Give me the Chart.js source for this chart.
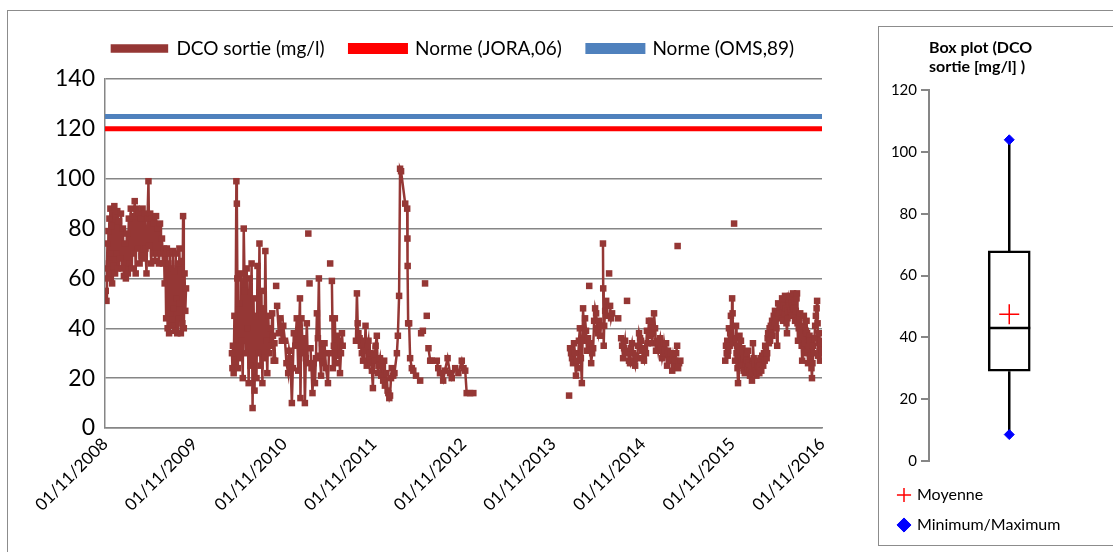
<!DOCTYPE html>
<html><head><meta charset="utf-8">
<script src="https://cdn.jsdelivr.net/npm/chart.js@4.4.1/dist/chart.umd.min.js"></script>
<style>
html,body{margin:0;padding:0;background:#fff;width:1113px;height:552px;overflow:hidden;position:relative;}
#frame{position:absolute;left:7px;top:10px;width:1200px;height:700px;border:1px solid #8c8c8c;}
#main{position:absolute;left:0;top:0;width:870px;height:552px;}
#boxframe{position:absolute;left:878px;top:26px;width:300px;height:518px;border:1px solid #8c8c8c;background:#fff;}
#box{position:absolute;left:879px;top:27px;width:234px;height:517px;}
</style></head><body>
<div id="frame"></div>
<div id="main"><canvas id="c1"></canvas></div>
<div id="boxframe"></div>
<div id="box"><canvas id="c2"></canvas></div>
<script>
// ---------- DATA ----------
const xTickLabels = ['01/11/2008','01/11/2009','01/11/2010','01/11/2011','01/11/2012','01/11/2013','01/11/2014','01/11/2015','01/11/2016'];
const seriesNames = ['DCO sortie (mg/l)','Norme (JORA,06)','Norme (OMS,89)'];
const normeJORA = 120;
const normeOMS = 125;

// DCO sortie: dates (YYYY-MM-DD) and values (mg/l); null = no measurement (line break)
const dates = [
'2008-11-04','2008-11-07','2008-11-09','2008-11-11','2008-11-13','2008-11-15','2008-11-17','2008-11-19','2008-11-21','2008-11-23','2008-11-25','2008-11-27','2008-11-30',
'2008-12-03','2008-12-06','2008-12-09','2008-12-12','2008-12-15','2008-12-18','2008-12-21','2008-12-24','2008-12-28',
'2009-01-01','2009-01-05','2009-01-09','2009-01-13','2009-01-17','2009-01-21','2009-01-25','2009-01-29',
'2009-02-02','2009-02-06','2009-02-10','2009-02-14','2009-02-18','2009-02-22','2009-02-26',
'2009-03-02','2009-03-06','2009-03-10','2009-03-14','2009-03-18','2009-03-22','2009-03-26','2009-03-30',
'2009-04-03','2009-04-07','2009-04-11','2009-04-15','2009-04-19','2009-04-23','2009-04-27','2009-04-30',
'2009-05-04','2009-05-08','2009-05-12','2009-05-16','2009-05-20','2009-05-24','2009-05-28',
'2009-06-01','2009-06-05','2009-06-09','2009-06-13','2009-06-17','2009-06-21','2009-06-25','2009-06-29',
'2009-07-02','2009-07-05','2009-07-08','2009-07-11','2009-07-14','2009-07-17','2009-07-20','2009-07-23','2009-07-26','2009-07-29',
'2009-08-01','2009-08-04','2009-08-07','2009-08-10','2009-08-13','2009-08-16','2009-08-19','2009-08-22','2009-08-25','2009-08-28','2009-08-31',
'2009-09-03','2009-09-06','2009-09-09','2009-09-12','2009-09-15','2009-09-18','2009-09-21','2009-09-24','2009-09-27',
'2009-10-20',
'2010-04-02','2010-04-04','2010-04-06','2010-04-09','2010-04-12','2010-04-16','2010-04-20','2010-04-22','2010-04-24','2010-04-26','2010-04-30',
'2010-05-04','2010-05-08','2010-05-12','2010-05-16','2010-05-20','2010-05-24','2010-05-28',
'2010-06-01','2010-06-05','2010-06-09','2010-06-13','2010-06-17','2010-06-21','2010-06-25','2010-06-29',
'2010-07-03','2010-07-07','2010-07-11','2010-07-15','2010-07-19','2010-07-23','2010-07-27','2010-07-31',
'2010-08-04','2010-08-08','2010-08-12','2010-08-16','2010-08-20','2010-08-24','2010-08-28',
'2010-09-01','2010-09-05','2010-09-09','2010-09-13','2010-09-16','2010-09-19','2010-09-22','2010-09-25',
'2010-09-27','2010-09-29','2010-10-01',
'2010-10-03','2010-10-10','2010-10-16','2010-10-22','2010-10-28','2010-11-04','2010-11-10','2010-11-17','2010-11-21','2010-11-26',
'2010-12-02','2010-12-06','2010-12-10','2010-12-16','2010-12-22','2010-12-28','2011-01-04','2011-01-06','2011-01-10','2011-01-16',
'2011-01-20','2011-01-24','2011-01-28','2011-02-01','2011-02-05',
'2011-02-06','2011-02-07','2011-02-09','2011-02-12','2011-02-14',
'2011-02-16','2011-02-20','2011-02-24','2011-02-28','2011-03-06','2011-03-10','2011-03-14','2011-03-18','2011-03-22','2011-03-26',
'2011-03-31','2011-04-04','2011-04-08','2011-04-14','2011-04-20','2011-04-28','2011-05-02',
'2011-05-04','2011-05-07','2011-05-10',
'2011-05-14','2011-05-16','2011-05-18','2011-05-22','2011-05-26','2011-05-30','2011-06-03','2011-06-07','2011-06-11','2011-06-16',
'2011-06-20','2011-06-24','2011-06-27',
'2011-07-15',
'2011-08-20','2011-08-24','2011-08-27','2011-08-30','2011-09-04','2011-09-09','2011-09-13','2011-09-18','2011-09-21','2011-09-25',
'2011-09-28','2011-10-03','2011-10-07','2011-10-10','2011-10-14','2011-10-17','2011-10-21','2011-10-24','2011-10-28','2011-10-31',
'2011-11-04','2011-11-08','2011-11-13','2011-11-17','2011-11-20','2011-11-26','2011-12-01','2011-12-05','2011-12-09','2011-12-13',
'2011-12-16','2011-12-22','2011-12-27','2011-12-30','2012-01-03','2012-01-06','2012-01-10','2012-01-13','2012-01-19','2012-01-24',
'2012-02-03','2012-02-07','2012-02-12','2012-02-16','2012-02-20','2012-03-08','2012-03-16','2012-03-17','2012-03-18','2012-03-20',
'2012-03-24','2012-03-28','2012-04-04','2012-04-10','2012-04-21','2012-05-08',
'2012-05-09','2012-05-12','2012-05-19','2012-05-22','2012-05-28','2012-05-31','2012-06-04','2012-06-07',
'2012-06-11','2012-06-18','2012-06-24','2012-07-15','2012-07-21','2012-07-28','2012-08-10','2012-08-17','2012-08-28','2012-09-07',
'2012-09-14','2012-09-28','2012-10-11','2012-10-25','2012-11-01','2012-11-08','2012-11-14',
'2012-11-20','2012-11-28','2012-12-11',
'2013-06-01',
'2014-01-05','2014-01-07',
'2014-01-09','2014-01-13','2014-01-17','2014-01-21','2014-01-25','2014-01-29','2014-02-02','2014-02-06','2014-02-10','2014-02-14',
'2014-02-18','2014-02-22','2014-02-26','2014-03-03','2014-03-07','2014-03-11','2014-03-15','2014-03-19','2014-03-23',
'2014-03-26','2014-03-28','2014-03-30',
'2014-04-01','2014-04-05','2014-04-09','2014-04-13','2014-04-17','2014-04-21','2014-04-25','2014-04-29','2014-05-03','2014-05-07','2014-05-11','2014-05-15',
'2014-05-20','2014-05-23','2014-05-24','2014-05-26','2014-05-28','2014-06-01','2014-06-05','2014-06-09','2014-06-12',
'2014-06-17','2014-06-19',
'2014-06-21','2014-06-25','2014-06-29',
'2014-07-15','2014-07-24','2014-07-28',
'2014-08-05','2014-08-09','2014-08-13','2014-08-17','2014-08-21','2014-08-25',
'2014-08-27','2014-08-29','2014-08-31',
'2014-09-02','2014-09-06','2014-09-10','2014-09-14','2014-09-18','2014-09-22','2014-09-26','2014-10-01','2014-10-05','2014-10-09',
'2014-10-13','2014-10-17','2014-10-21','2014-10-25','2014-10-29','2014-11-02','2014-11-06','2014-11-10','2014-11-14','2014-11-18',
'2014-11-22','2014-11-26','2014-11-30','2014-12-05','2014-12-09','2014-12-13','2014-12-17','2014-12-21','2014-12-25','2014-12-29',
'2015-01-03','2015-01-07','2015-01-11','2015-01-15','2015-01-19','2015-01-23','2015-01-27','2015-01-31','2015-02-04','2015-02-08',
'2015-02-12','2015-02-16','2015-02-20','2015-02-24','2015-03-01','2015-03-05','2015-03-09','2015-03-13','2015-03-17','2015-03-21',
'2015-03-22','2015-03-23','2015-03-24',
'2015-03-25','2015-03-29','2015-04-03',
'2015-06-01',
'2015-10-03','2015-10-06','2015-10-09','2015-10-11','2015-10-13','2015-10-15','2015-10-18','2015-10-21','2015-10-23','2015-10-26',
'2015-10-29','2015-10-31','2015-11-02','2015-11-04',
'2015-11-06','2015-11-08','2015-11-10',
'2015-11-12','2015-11-14','2015-11-16','2015-11-18','2015-11-20','2015-11-22','2015-11-24','2015-11-26','2015-11-28','2015-11-30',
'2015-12-02','2015-12-04','2015-12-06','2015-12-08','2015-12-10','2015-12-12','2015-12-14','2015-12-17','2015-12-19','2015-12-22',
'2015-12-25','2015-12-28','2015-12-31','2016-01-02','2016-01-04','2016-01-07','2016-01-10','2016-01-12','2016-01-15','2016-01-18',
'2016-01-20','2016-01-22','2016-01-24','2016-01-27','2016-01-30','2016-02-01','2016-02-04','2016-02-07','2016-02-09','2016-02-11',
'2016-02-13','2016-02-16','2016-02-19','2016-02-21','2016-02-24','2016-02-27','2016-03-02','2016-03-04','2016-03-06','2016-03-09',
'2016-03-12','2016-03-14','2016-03-17','2016-03-20','2016-03-22','2016-03-24','2016-03-26','2016-03-29','2016-04-01','2016-04-03',
'2016-04-06','2016-04-09','2016-04-11','2016-04-13','2016-04-15','2016-04-18','2016-04-21','2016-04-23','2016-04-26','2016-04-29',
'2016-05-02','2016-05-04','2016-05-06','2016-05-09','2016-05-12','2016-05-14','2016-05-17','2016-05-20','2016-05-22','2016-05-24',
'2016-05-26','2016-05-29','2016-06-01','2016-06-03','2016-06-06','2016-06-09','2016-06-11','2016-06-13','2016-06-15','2016-06-18',
'2016-06-21','2016-06-23','2016-06-26','2016-06-29','2016-07-02','2016-07-04','2016-07-06','2016-07-09','2016-07-12','2016-07-14',
'2016-07-17','2016-07-20','2016-07-22','2016-07-24','2016-07-26','2016-07-29','2016-08-01','2016-08-04','2016-08-07','2016-08-10',
'2016-08-12','2016-08-14','2016-08-16','2016-08-19','2016-08-22','2016-08-24','2016-08-27','2016-08-30','2016-09-01','2016-09-03',
'2016-09-05','2016-09-08','2016-09-11','2016-09-13','2016-09-16','2016-09-19','2016-09-21','2016-09-23','2016-09-25','2016-09-28',
'2016-10-01','2016-10-04','2016-10-07','2016-10-10','2016-10-12','2016-10-14','2016-10-16','2016-10-18','2016-10-20','2016-10-22',
'2016-10-24','2016-10-26','2016-10-28','2016-10-30','2016-11-01'
];
const dco = [
55,51,64,74,60,79,66,84,70,88,62,81,58,
86,65,89,62,85,70,87,64,83,
68,86,64,80,61,74,60,78,
62,84,66,88,64,85,70,
91,62,88,72,86,66,84,69,
88,68,86,72,62,84,99,73,
86,66,84,70,82,67,85,
70,80,66,82,70,76,66,72,
58,70,44,72,40,66,38,70,46,64,
41,71,48,63,39,70,52,38,66,44,72,
50,38,67,42,85,40,62,47,56,
null,
30,24,33,22,45,26,99,90,60,24,50,
28,62,35,20,80,55,30,
64,40,18,60,25,66,8,52,
15,45,20,65,30,74,25,55,
18,48,28,71,35,22,45,
30,40,33,46,37,27,34,27,
null,57,null,
49,38,44,35,41,35,26,22,31,28,
10,24,38,33,44,23,52,12,44,30,
36,10,28,42,26,
null,78,null,58,null,
32,24,14,26,18,28,46,36,60,29,
21,34,26,34,24,18,30,
null,66,null,
59,44,24,33,44,26,37,29,35,22,
30,38,33,
null,
35,54,42,38,36,33,30,27,35,31,
41,25,33,35,28,30,26,23,16,29,
27,33,37,22,25,28,21,26,19,27,
17,22,15,14,12,13,20,24,21,22,
30,37,53,104,103,90,88,76,65,42,
42,28,24,23,21,19,
null,38,39,null,58,null,45,null,
32,27,27,27,24,22,19,23,28,22,
20,24,22,27,24,23,14,
null,14,14,
null,
13,null,
32,30,28,26,34,30,21,27,24,35,
40,28,18,48,35,44,39,31,36,
null,57,null,
34,26,30,32,43,48,46,40,38,43,37,41,
null,74,56,33,41,47,51,45,null,
62,null,
49,44,46,
null,44,null,
36,33,28,32,35,30,
null,51,null,
31,27,26,32,34,30,27,25,29,28,
33,38,36,35,31,28,27,32,30,39,
34,43,37,43,34,38,46,40,31,35,
31,34,36,32,28,30,34,31,34,25,
31,28,27,30,23,28,25,27,30,33,
null,73,null,
24,26,27,
null,
27,33,30,35,29,31,40,33,38,45,
36,52,46,34,
null,82,null,
27,36,41,30,33,24,18,26,29,37,
31,28,35,27,25,32,30,23,28,22,
26,30,27,24,31,26,23,21,25,22,
19,27,34,28,24,26,23,21,22,25,
27,24,22,25,28,23,29,26,25,30,
27,33,31,28,30,36,38,34,40,35,
41,38,43,37,41,45,42,47,44,40,
33,46,50,45,48,46,49,44,52,47,
43,49,46,53,48,42,38,44,47,51,
49,53,47,50,45,49,54,48,51,43,
47,52,54,42,35,40,44,46,38,33,
27,36,41,45,34,30,39,43,38,31,
26,33,37,35,29,24,20,26,33,30,
36,41,45,48,51,42,29,34,38,31,
27,35,34,31,30
];

// Box plot statistics (DCO sortie, mg/l)
const bpLabels = ['Moyenne','Minimum/Maximum'];
const bpMin = 8.5;
const bpQ1 = 29;
const bpMedian = 43;
const bpMean = 47.5;
const bpQ3 = 68;
const bpMax = 104;
const bpTicks = [0,20,40,60,80,100,120];

// ---------- helpers ----------
function toX(s){
  const p = s.split('-').map(Number);
  const t = Date.UTC(p[0], p[1]-1, p[2]);
  const k = p[0] - 2008 - (p[1] < 11 ? 1 : 0);
  const a = Date.UTC(2008+k, 10, 1), b = Date.UTC(2009+k, 10, 1);
  return k + (t - a) / (b - a);
}
const FONT = 'Lato, "Open Sans", sans-serif';
const brown = '#953735';
const xMin = 0, xMax = xTickLabels.length - 1;

const mainPts = dates.map((d,i) => ({x: toX(d), y: dco[i]}));

const legendSpacer = {
  id: 'legendSpacer',
  beforeInit(chart) {
    const fit = chart.legend.fit;
    chart.legend.fit = function() { fit.call(this); this.height += chart.options.plugins.legendSpacer.extra; };
  },
  afterLayout(chart) {
    const dx = chart.options.plugins.legendSpacer.shift;
    chart.legend.left += dx; chart.legend.right += dx;
  }
};

new Chart(document.getElementById('c1'), {
  type: 'line',
  data: { datasets: [
    { label: seriesNames[0], data: mainPts, borderColor: brown, backgroundColor: brown, borderWidth: 2.5,
      pointStyle: 'rect', pointRadius: 4.6, pointBackgroundColor: brown, pointBorderColor: brown, pointBorderWidth: 0,
      spanGaps: false, tension: 0 },
    { label: seriesNames[1], data: [{x: xMin, y: normeJORA}, {x: xMax, y: normeJORA}], borderColor: '#ff0000', backgroundColor: '#ff0000', borderWidth: 5, pointRadius: 0 },
    { label: seriesNames[2], data: [{x: xMin, y: normeOMS}, {x: xMax, y: normeOMS}], borderColor: '#4f81bd', backgroundColor: '#4f81bd', borderWidth: 5, pointRadius: 0 }
  ]},
  plugins: [legendSpacer],
  options: {
    responsive: true, maintainAspectRatio: false, animation: false,
    layout: { padding: { top: 13, right: 48, left: 0, bottom: 0 } },
    plugins: {
      legendSpacer: { extra: 11, shift: 42 },
      tooltip: { enabled: false },
      legend: { display: true, position: 'top',
        labels: { boxWidth: 55, boxHeight: 6, padding: 26, color: '#000', font: { family: FONT, size: 19 } } }
    },
    scales: {
      x: { type: 'linear', min: xMin, max: xMax,
        afterFit(s) { s.height = 124; },
        ticks: { stepSize: 1, autoSkip: false, minRotation: 45, maxRotation: 45, color: '#000', padding: 6,
          font: { family: FONT, size: 17 }, callback: (v) => xTickLabels[v] },
        grid: { display: false, drawTicks: false },
        border: { display: true, color: '#868686', width: 1.5 } },
      y: { min: 0, max: 140,
        afterFit(s) { s.width = 105; },
        ticks: { stepSize: 20, color: '#000', padding: 10, font: { family: FONT, size: 23 } },
        grid: { color: '#868686', lineWidth: 1.5, drawTicks: false },
        border: { display: true, color: '#868686', width: 1.5 } }
    }
  }
});

// ---------- Box plot ----------
new Chart(document.getElementById('c2'), {
  type: 'scatter',
  data: { datasets: [
    { type: 'bar', label: 'box', order: 10, data: [{x: 1, y: [bpQ1, bpQ3]}], backgroundColor: '#fff', borderColor: '#000', borderWidth: 2.5, borderSkipped: false, barThickness: 42 },
    { type: 'line', label: 'whiskerHi', order: 5, data: [{x: 1, y: bpQ3}, {x: 1, y: bpMax}], borderColor: '#000', borderWidth: 2.5, pointRadius: 0 },
    { type: 'line', label: 'whiskerLo', order: 5, data: [{x: 1, y: bpMin}, {x: 1, y: bpQ1}], borderColor: '#000', borderWidth: 2.5, pointRadius: 0 },
    { label: 'median', order: 2, data: [{x: 1, y: bpMedian}], pointStyle: 'line', pointRadius: 21, borderColor: '#000', pointBorderWidth: 2.5, pointBorderColor: '#000' },
    { label: bpLabels[0], order: 1, data: [{x: 1, y: bpMean}], pointStyle: 'cross', pointRadius: 10, pointBorderWidth: 1.5, borderColor: '#ff0000', backgroundColor: '#ff0000', pointBorderColor: '#ff0000' },
    { label: bpLabels[1], order: 1, data: [{x: 1, y: bpMin}, {x: 1, y: bpMax}], pointStyle: 'rectRot', pointRadius: 5, borderColor: '#0000ff', backgroundColor: '#0000ff', pointBackgroundColor: '#0000ff', pointBorderColor: '#0000ff' }
  ]},
  options: {
    responsive: true, maintainAspectRatio: false, animation: false,
    layout: { padding: { top: 8, right: 0, left: 6, bottom: 1 } },
    plugins: {
      tooltip: { enabled: false },
      title: { display: true, text: ['Box plot (DCO', 'sortie [mg/l] )'], align: 'start', fullSize: false, color: '#000',
        font: { family: FONT, size: 16, weight: 'bold' }, padding: { top: 3, bottom: 14 } },
      legend: { display: true, position: 'bottom', align: 'start',
        title: { display: true, text: '', font: { size: 1 }, padding: { top: 0, bottom: 11 } },
        labels: { usePointStyle: true, boxWidth: 10, boxHeight: 10, padding: 14, color: '#000', font: { family: FONT, size: 16 },
          filter: (item) => bpLabels.includes(item.text),
          sort: (a, b) => bpLabels.indexOf(a.text) - bpLabels.indexOf(b.text) } }
    },
    scales: {
      x: { type: 'linear', min: 0, max: 2, display: false },
      y: { min: 0, max: 120,
        afterFit(s) { s.width = 44; },
        afterBuildTicks(s) { s.ticks = bpTicks.map(v => ({value: v})); },
        ticks: { color: '#000', padding: 4, font: { family: FONT, size: 15 } },
        grid: { drawOnChartArea: false, drawTicks: true, tickLength: 8, color: '#868686', lineWidth: 2 },
        border: { display: true, color: '#868686', width: 2 } }
    }
  }
});
</script>
</body></html>
